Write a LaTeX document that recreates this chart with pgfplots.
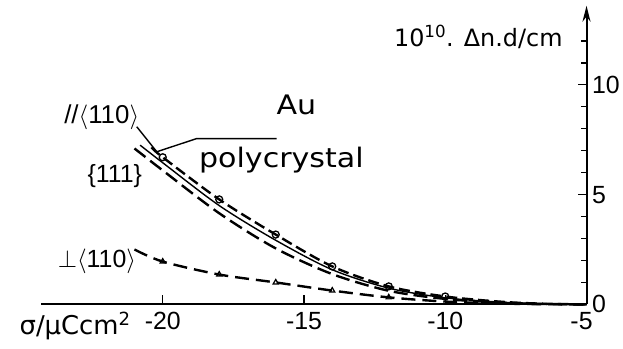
\documentclass[border=0pt]{standalone}
\usepackage{pgfplots}
\pgfplotsset{compat=1.18}
\usepackage{fontspec}
\setmainfont{Liberation Sans}
\newfontfamily\dv{DejaVu Sans}
\newfontfamily\dvw[FakeStretch=1.12]{DejaVu Sans}
\usetikzlibrary{arrows.meta}
\begin{document}
\begin{tikzpicture}
\begin{axis}[
  x=28.3bp, y=22bp,
  xmin=-24.3, xmax=-5, ymin=0, ymax=13.6,
  axis x line*=bottom, axis y line*=right,
  axis line style={line width=2bp, black},
  y axis line style={-{Stealth[length=16bp,width=8bp]}},
  xtick={-20,-15,-10,-5}, xticklabels={-20,-15,-10,{\kern-10bp-5}},
  ytick={0,5,10}, yticklabels={0,5,10},
  minor ytick={1,2,3,4,6,7,8,9,11,12},
  tick align=inside,
  major tick length=9bp, minor tick length=6bp,
  tick style={line width=1.4bp, black},
  x tick label style={font=\fontsize{25}{25}\selectfont, yshift=-4bp},
  y tick label style={font=\fontsize{25}{25}\selectfont, xshift=2bp},
  clip=false,
]
% bounding box
\path (axis cs:-25.76,-2.0) rectangle (axis cs:-3.745,13.86);

% //<110> with circles (dashed)
\addplot[black, line width=2.4bp, dash pattern=on 11bp off 5bp, smooth, tension=0.5] coordinates {
 (-20.4,7.15) (-20,6.7) (-18,4.78) (-16,3.18) (-14,1.73) (-12,0.82) (-10,0.36) (-8,0.12) (-6.5,0.03) (-5,0)};
\addplot[black, only marks, mark=o, mark size=3.5bp, mark options={line width=1.3bp, fill=white}] coordinates {
 (-20,6.7) (-18,4.78) (-16,3.18) (-14,1.73) (-12,0.82) (-10,0.36)};

% polycrystal (solid)
\addplot[black, line width=1.4bp, smooth, tension=0.5] coordinates {
 (-20.8,7.25) (-20,6.45) (-18,4.5) (-16,2.92) (-14,1.58) (-12,0.74) (-10,0.3) (-8,0.1) (-6.5,0.02) (-5,0)};

% {111} (long dashed)
\addplot[black, line width=2.4bp, dash pattern=on 14bp off 6bp, smooth, tension=0.5] coordinates {
 (-21,7.1) (-20,6.1) (-18,4.15) (-16,2.55) (-14,1.38) (-12,0.62) (-10,0.25) (-8,0.08) (-6.5,0.02) (-5,0)};

% perp <110> with triangles
\addplot[black, line width=2.4bp, dash pattern=on 14bp off 7bp, smooth, tension=0.5] coordinates {
 (-21,2.5) (-20,1.95) (-18,1.36) (-16,1.0) (-14,0.63) (-12,0.32) (-10,0.13) (-8,0.04) (-6.5,0.01) (-5,0)};
\addplot[black, only marks, mark=triangle, mark size=3bp, mark options={line width=1.2bp, fill=white}] coordinates {
 (-20,1.95) (-18,1.36) (-16,1.0) (-14,0.63) (-12,0.32)};

% leaders
\draw[line width=1.4bp] (axis cs:-20.92,8.09) -- (axis cs:-20.21,6.95);
\draw[line width=1.4bp] (axis cs:-15.97,7.55) -- (axis cs:-18.8,7.55) -- (axis cs:-20.21,6.95);

% labels
\node[font=\dvw\fontsize{27}{27}\selectfont] at (axis cs:-15.27,9.09) {Au};
\node[font=\fontsize{26}{26}\selectfont] at (axis cs:-22.16,8.5) {//$\langle$110$\rangle$};
\node[font=\fontsize{25}{25}\selectfont] at (axis cs:-21.7,5.86) {\{111\}};
\node[font=\dvw\fontsize{27}{27}\selectfont] at (axis cs:-15.8,6.59) {polycrystal};
\node[font=\fontsize{25}{25}\selectfont] at (axis cs:-22.33,1.95) {$\mathord{\perp}\langle$110$\rangle$};
\node[font=\dv\fontsize{24}{24}\selectfont] at (axis cs:-8.83,12.18) {10\textsuperscript{10}. Δn.d/cm};
\node[font=\dv\fontsize{26}{26}\selectfont] at (axis cs:-23.1,-1.0) {σ/μCcm\textsuperscript{2}};
\end{axis}
\end{tikzpicture}
\end{document}
